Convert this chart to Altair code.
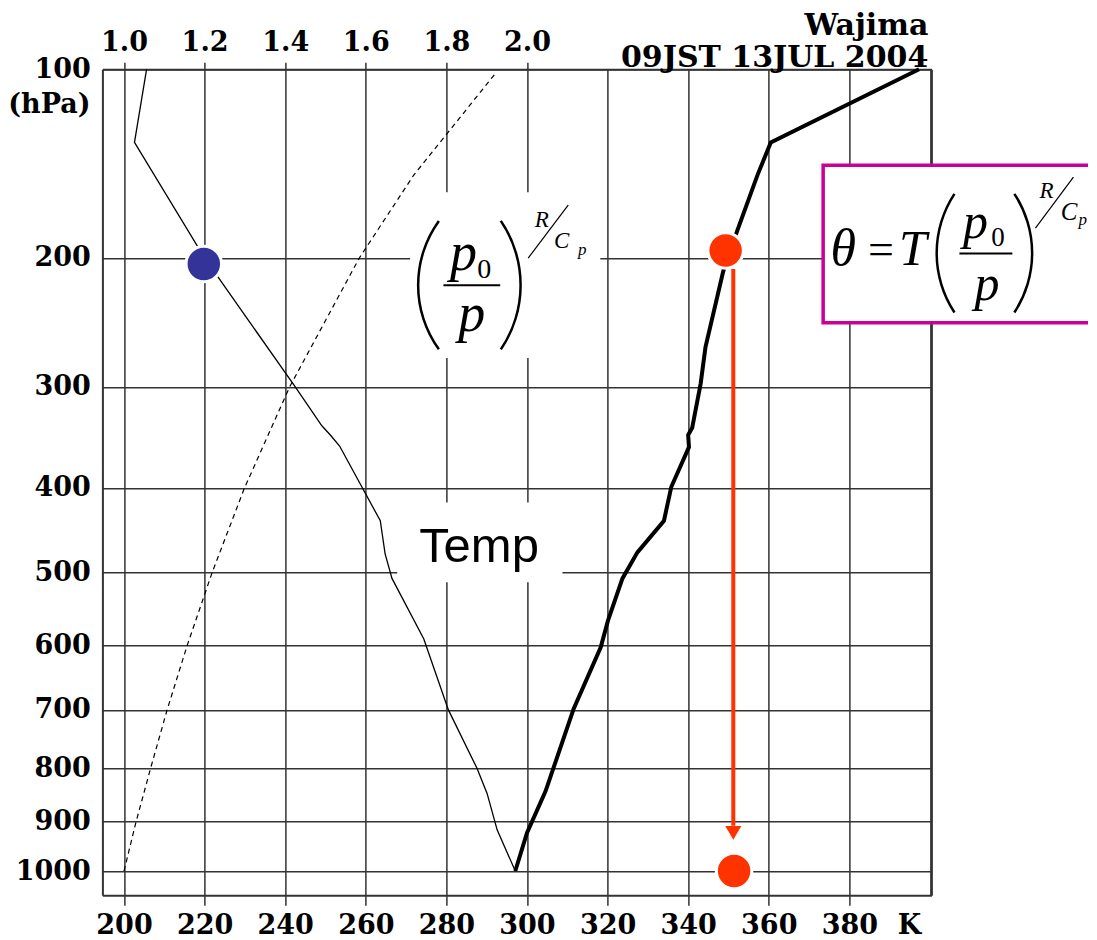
import altair as alt
import pandas as pd

# ---------------- data ----------------
# observed temperature (K) vs pressure (hPa)
temp_p = [100, 133, 200, 300, 336, 345, 356, 437, 477, 508, 591, 700, 800, 846, 916, 1000]
temp_T = [205.6, 202.6, 220.0, 242.5, 249.1, 251.2, 253.5, 263.6, 264.8, 266.5, 274.4, 280.5, 287.6, 290.1, 292.6, 297.1]

# potential temperature (K) vs pressure (hPa)
theta_p = [1000, 922, 842, 698, 603, 565, 508, 475, 437, 399, 357, 345, 338, 297, 266, 209, 183, 150, 133, 100]
theta_T = [297.1, 300.0, 304.6, 311.6, 318.3, 320.1, 323.7, 327.4, 334.0, 335.8, 340.2, 340.0, 341.0, 343.1, 344.3, 348.7, 352.1, 357.2, 360.5, 397.3]

# factor (p0/p)^(R/Cp) read on the top axis (dashed curve)
factor_p = [1000, 900, 800, 700, 600, 500, 400, 300, 200, 150, 101]
factor_v = [1.000, 1.030, 1.066, 1.107, 1.157, 1.219, 1.299, 1.411, 1.584, 1.719, 1.925]

# highlighted points
dot_T = [219.8, 349.3, 351.4]
dot_p = [204, 195, 1000]
dot_c = ["#333399", "#FF3300", "#FF3300"]

# arrow from theta at 200 hPa down to 1000 hPa
arrow_T = [351.2]
arrow_p_start = [207.5]
arrow_p_end = [908]
arrow_head_p = [922]

# ticks
x_ticks = [200, 220, 240, 260, 280, 300, 320, 340, 360, 380, 400]
y_ticks = [100, 200, 300, 400, 500, 600, 700, 800, 900, 1000]
top_ticks = [1.0, 1.2, 1.4, 1.6, 1.8, 2.0]

T_DOMAIN = [194.64, 400.36]
F_DOMAIN = [0.9464, 3.0036]
P_DOMAIN = [100, 1052]
KAPPA = 0.2857

# annotations (in data units: K, hPa)
title_text = ["Wajima", "09JST 13JUL 2004"]
title_T = [399.6, 399.6]
title_p = [86.8, 99.1]

unit_text = ["(hPa)"]
unit_T = [191.7]
unit_p = [119.0]

temp_label = ["Temp"]
temp_label_T = [288.1]
temp_label_p = [487.5]

# white patches behind labels
patch_T1 = [271.0, 267.8]
patch_T2 = [318.2, 308.8]
patch_p1 = [159.5, 416]
patch_p2 = [275.0, 513]

# formula box
box_T1 = [373.5]
box_T2 = [446.0]
box_p1 = [144.7]
box_p2 = [246.7]

# formula glyphs
ital_text = ["p", "p", "R", "C", "p", "θ", "T", "p", "p", "R", "C", "p"]
ital_T = [284.24, 286.27, 303.65, 308.62, 313.71, 378.51, 395.77, 411.28, 414.13, 428.90, 434.50, 437.94]
ital_p = [208.2, 253.2, 180.0, 193.7, 197.9, 204.8, 204.8, 187.0, 229.5, 162.8, 175.9, 178.6]
ital_s = [54, 54, 23, 23, 17, 52, 50, 50, 50, 23, 25, 17]

rom_text = ["0", "=", "0"]
rom_T = [289.38, 387.82, 416.87]
rom_p = [213.9, 204.8, 192.2]
rom_s = [28, 46, 27]

# fraction bars and slashes
seg_T1 = [279.27, 407.31, 300.30, 426.18]
seg_T2 = [293.35, 420.46, 310.23, 435.61]
seg_p1 = [218.7, 197.0, 200.1, 180.8]
seg_p2 = [218.7, 197.0, 166.9, 151.1]
seg_w = [2.0, 2.0, 1.2, 1.2]

# parentheses (arcs)
par_T = [300.23, 270.04, 428.41, 398.62]
par_p = [218.7, 218.7, 196.8, 196.8]
par_t1 = [4.0876, 0.9739, 4.1295, 0.9879]
par_t2 = [5.3372, 2.1677, 5.2953, 2.1537]
par_r = [111.0, 115.6, 109.0, 109.0]
par_r2 = [108.5, 113.1, 106.5, 106.5]

# ---------------- scales and axes ----------------
LAB = dict(labelFont="DejaVu Serif", labelFontWeight="bold", labelFontSize=27,
           labelColor="black", labelFlush=False, labelOverlap=False)

xs = alt.Scale(domain=T_DOMAIN, nice=False, zero=False)
ys = alt.Scale(type="pow", exponent=KAPPA, domain=P_DOMAIN, reverse=True, nice=False, zero=False)
fs = alt.Scale(domain=F_DOMAIN, nice=False, zero=False)

x_axis = alt.Axis(orient="bottom", values=x_ticks, title=None, grid=True, gridColor="#333",
                  gridWidth=1.5, gridOpacity=1, ticks=True, tickSize=10, tickColor="#333",
                  tickWidth=1.5,
                  tickOpacity={"condition": {"test": "datum.value == 400", "value": 0}, "value": 1},
                  domain=True, domainColor="#333", domainWidth=2, labelPadding=7, format="d",
                  labelExpr="datum.value == 400 ? 'K' : datum.label",
                  labelOffset={"condition": {"test": "datum.value == 400", "value": -21}, "value": 0},
                  **LAB)
y_axis = alt.Axis(orient="left", values=y_ticks, title=None, grid=True, gridColor="#333",
                  gridWidth=1.5, gridOpacity=1, ticks=False, domain=True, domainColor="#333",
                  domainWidth=2, labelPadding=12, format="d", **LAB)
top_axis = alt.Axis(orient="top", values=top_ticks, title=None, grid=False, ticks=True,
                    tickSize=7, tickColor="#333", tickWidth=1.5, domain=True, domainColor="#333",
                    domainWidth=2, labelPadding=6, format=".1f", **LAB)
right_axis = alt.Axis(orient="right", title=None, grid=False, ticks=False, labels=False,
                      domain=True, domainColor="#333", domainWidth=2)


def X(f):
    return alt.X(f"{f}:Q", scale=xs, axis=x_axis)


def Y(f):
    return alt.Y(f"{f}:Q", scale=ys, axis=y_axis)


# ---------------- layers ----------------
patches = alt.Chart(pd.DataFrame({"T1": patch_T1, "T2": patch_T2, "p1": patch_p1, "p2": patch_p2})).mark_rect(
    fill="white", stroke=None).encode(x=X("T1"), x2="T2", y=Y("p1"), y2="p2")

df_temp = pd.DataFrame({"T": temp_T, "p": temp_p, "i": list(range(len(temp_T)))})
line_temp = alt.Chart(df_temp).mark_line(color="black", strokeWidth=1.3).encode(
    x=X("T"), y=Y("p"), order="i:Q")

df_theta = pd.DataFrame({"T": theta_T, "p": theta_p, "i": list(range(len(theta_T)))})
line_theta = alt.Chart(df_theta).mark_line(color="black", strokeWidth=4).encode(
    x=X("T"), y=Y("p"), order="i:Q")

df_arrow = pd.DataFrame({"T": arrow_T, "p1": arrow_p_start, "p2": arrow_p_end, "ph": arrow_head_p})
arrow_line = alt.Chart(df_arrow).mark_rule(color="#FF3300", strokeWidth=4).encode(
    x=X("T"), y=Y("p1"), y2="p2")
arrow_head = alt.Chart(df_arrow).mark_point(shape="triangle-down", filled=True, size=260,
                                            color="#FF3300", opacity=1, strokeWidth=0).encode(
    x=X("T"), y=Y("ph"))

df_dots = pd.DataFrame({"T": dot_T, "p": dot_p, "c": dot_c})
dots = alt.Chart(df_dots).mark_circle(size=1257, opacity=1, stroke="white", strokeWidth=3).encode(
    x=X("T"), y=Y("p"), color=alt.Color("c:N", scale=None))

box = alt.Chart(pd.DataFrame({"T1": box_T1, "T2": box_T2, "p1": box_p1, "p2": box_p2})).mark_rect(
    fill="white", stroke="#CC0099", strokeWidth=3.5).encode(x=X("T1"), x2="T2", y=Y("p1"), y2="p2")

df_par = pd.DataFrame({"T": par_T, "p": par_p, "t1": par_t1, "t2": par_t2, "r": par_r, "r2": par_r2})
parens = alt.Chart(df_par).mark_arc(color="black").encode(
    x=X("T"), y=Y("p"),
    theta=alt.Theta("t1:Q", scale=None, stack=None), theta2="t2:Q",
    radius=alt.Radius("r:Q", scale=None), radius2="r2:Q")

df_seg = pd.DataFrame({"T1": seg_T1, "T2": seg_T2, "p1": seg_p1, "p2": seg_p2, "w": seg_w})
segs = alt.Chart(df_seg).mark_rule(color="black").encode(
    x=X("T1"), x2="T2", y=Y("p1"), y2="p2", size=alt.Size("w:Q", scale=None))

df_ital = pd.DataFrame({"t": ital_text, "T": ital_T, "p": ital_p, "s": ital_s})
ital = alt.Chart(df_ital).mark_text(font="Liberation Serif", fontStyle="italic", align="center",
                                    baseline="alphabetic", color="black").encode(
    x=X("T"), y=Y("p"), text="t:N", size=alt.Size("s:Q", scale=None))

df_rom = pd.DataFrame({"t": rom_text, "T": rom_T, "p": rom_p, "s": rom_s})
rom = alt.Chart(df_rom).mark_text(font="Liberation Serif", align="center",
                                  baseline="alphabetic", color="black").encode(
    x=X("T"), y=Y("p"), text="t:N", size=alt.Size("s:Q", scale=None))

temp_txt = alt.Chart(pd.DataFrame({"t": temp_label, "T": temp_label_T, "p": temp_label_p})).mark_text(
    font="Liberation Sans", fontSize=49, align="center", baseline="alphabetic", color="black").encode(
    x=X("T"), y=Y("p"), text="t:N")

title_txt = alt.Chart(pd.DataFrame({"t": title_text, "T": title_T, "p": title_p})).mark_text(
    font="DejaVu Serif", fontWeight="bold", fontSize=30, align="right", baseline="alphabetic",
    color="black").encode(x=X("T"), y=Y("p"), text="t:N")

unit_txt = alt.Chart(pd.DataFrame({"t": unit_text, "T": unit_T, "p": unit_p})).mark_text(
    font="DejaVu Serif", fontWeight="bold", fontSize=27, align="right", baseline="alphabetic",
    color="black").encode(x=X("T"), y=Y("p"), text="t:N")

main = alt.layer(patches, line_temp, line_theta, arrow_line, arrow_head, dots, box,
                 parens, segs, ital, rom, temp_txt, title_txt, unit_txt)

df_f = pd.DataFrame({"f": factor_v, "p": factor_p, "i": list(range(len(factor_v)))})
dashed = alt.Chart(df_f).mark_line(color="black", strokeWidth=1.2, strokeDash=[5, 4]).encode(
    x=alt.X("f:Q", scale=fs, axis=top_axis),
    y=alt.Y("p:Q", scale=ys, axis=right_axis),
    order="i:Q")

chart = alt.layer(dashed, main).resolve_scale(x="independent").resolve_axis(
    x="independent", y="independent").properties(
    width=829, height=826,
    autosize=alt.AutoSizeParams(type="none"),
    padding={"left": 94.4, "top": 61.3, "right": 157, "bottom": 46},
    background="white",
).configure_view(stroke=None)

chart.save("out.html", embed_options={"renderer": "svg", "actions": False})
